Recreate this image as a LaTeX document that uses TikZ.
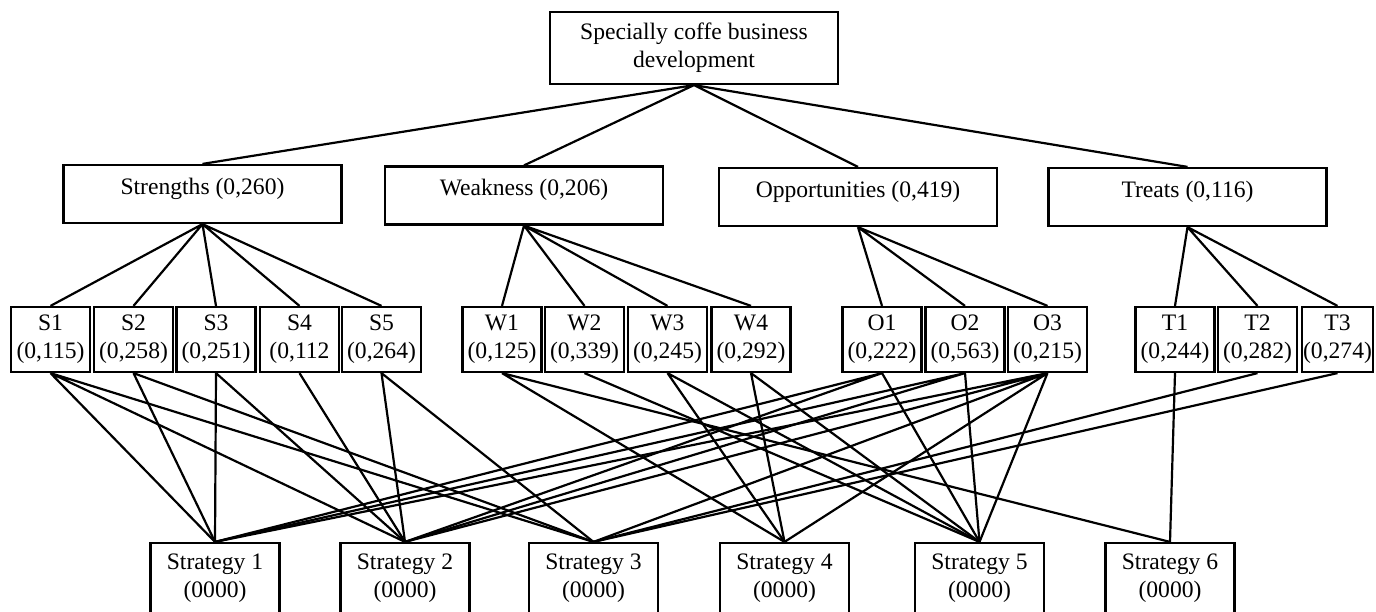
\documentclass[tikz,border=0pt]{standalone}
\usepackage{fontspec}
\setmainfont{Liberation Serif}
\tikzset{
  box/.style={draw, line width=1.1pt, align=center, inner sep=0pt,
    font=\fontsize{11.8}{14}\selectfont},
  goalbox/.style={box, minimum width=144pt, minimum height=36pt},
  groupbox/.style={box, minimum width=139pt, text height=14.5pt, text depth=14.5pt},
  factorbox/.style={box, minimum width=39.5pt, minimum height=32.5pt},
  stratbox/.style={box, minimum width=64.5pt, minimum height=35pt},
  link/.style={line width=1.1pt}
}
\begin{document}
\begin{tikzpicture}[x=0.5pt, y=-0.5pt]
        \useasboundingbox (0,0) rectangle (1376,611);

        \node [goalbox] (goal) at (694,48) {Specially coffe business\\development};

        \node [groupbox] (str) at (202.5,194) {Strengths (0,260)};
        \node [groupbox] (wea) at (524,195.5) {Weakness (0,206)};
        \node [groupbox] (opp) at (858,197) {Opportunities (0,419)};
        \node [groupbox] (thr) at (1187.5,197) {Treats (0,116)};

        \node [factorbox] (s1) at (50.5,339.5) {S1\\(0,115)};
        \node [factorbox] (s2) at (133.5,339.5) {S2\\(0,258)};
        \node [factorbox] (s3) at (216,339.5) {S3\\(0,251)};
        \node [factorbox] (s4) at (299.5,339.5) {S4\\(0,112};
        \node [factorbox] (s5) at (381.5,339.5) {S5\\(0,264)};

        \node [factorbox] (w1) at (502,339.5) {W1\\(0,125)};
        \node [factorbox] (w2) at (584.5,339.5) {W2\\(0,339)};
        \node [factorbox] (w3) at (667.5,339.5) {W3\\(0,245)};
        \node [factorbox] (w4) at (751,339.5) {W4\\(0,292)};

        \node [factorbox] (o1) at (882,339.5) {O1\\(0,222)};
        \node [factorbox] (o2) at (965,339.5) {O2\\(0,563)};
        \node [factorbox] (o3) at (1047.5,339.5) {O3\\(0,215)};

        \node [factorbox] (t1) at (1175,339.5) {T1\\(0,244)};
        \node [factorbox] (t2) at (1257.5,339.5) {T2\\(0,282)};
        \node [factorbox, minimum width=35.5pt] (t3) at (1337.5,339.5) {T3\\(0,274)};

        \node [stratbox] (st1) at (215,578) {Strategy 1\\(0000)};
        \node [stratbox] (st2) at (405,578) {Strategy 2\\(0000)};
        \node [stratbox] (st3) at (593.5,578) {Strategy 3\\(0000)};
        \node [stratbox] (st4) at (784.5,578) {Strategy 4\\(0000)};
        \node [stratbox] (st5) at (979.5,578) {Strategy 5\\(0000)};
        \node [stratbox] (st6) at (1170,578) {Strategy 6\\(0000)};

        % goal to groups
        \draw [link] (goal.south) -- (str.north) (goal.south) -- (wea.north)
                     (goal.south) -- (opp.north) (goal.south) -- (thr.north);

        % groups to factors
        \draw [link] (str.south) -- (s1.north) (str.south) -- (s2.north) (str.south) -- (s3.north)
                     (str.south) -- (s4.north) (str.south) -- (s5.north);
        \draw [link] (wea.south) -- (w1.north) (wea.south) -- (w2.north)
                     (wea.south) -- (w3.north) (wea.south) -- (w4.north);
        \draw [link] (opp.south) -- (o1.north) (opp.south) -- (o2.north) (opp.south) -- (o3.north);
        \draw [link] (thr.south) -- (t1.north) (thr.south) -- (t2.north) (thr.south) -- (t3.north);

        % factors to strategies
        \draw [link] (s1.south) -- (st1.north) (s1.south) -- (st2.north) (s1.south) -- (st3.north);
        \draw [link] (s2.south) -- (st1.north) (s2.south) -- (st3.north);
        \draw [link] (s3.south) -- (st1.north) (s3.south) -- (st2.north);
        \draw [link] (s4.south) -- (st2.north);
        \draw [link] (s5.south) -- (st2.north) (s5.south) -- (st3.north);

        \draw [link] (w1.south) -- (st4.north) (w1.south) -- (st6.north);
        \draw [link] (w2.south) -- (st5.north);
        \draw [link] (w3.south) -- (st4.north) (w3.south) -- (st5.north);
        \draw [link] (w4.south) -- (st4.north) (w4.south) -- (st5.north);

        \draw [link] (o1.south) -- (st1.north) (o1.south) -- (st2.north) (o1.south) -- (st5.north);
        \draw [link] (o2.south) -- (st1.north) (o2.south) -- (st2.north) (o2.south) -- (st5.north);
        \draw [link] (o3.south) -- (st1.north) (o3.south) -- (st2.north) (o3.south) -- (st3.north)
                     (o3.south) -- (st4.north) (o3.south) -- (st5.north);

        \draw [link] (t1.south) -- (st6.north);
        \draw [link] (t2.south) -- (st3.north);
        \draw [link] (t3.south) -- (st3.north);

    \end{tikzpicture}
\end{document}
